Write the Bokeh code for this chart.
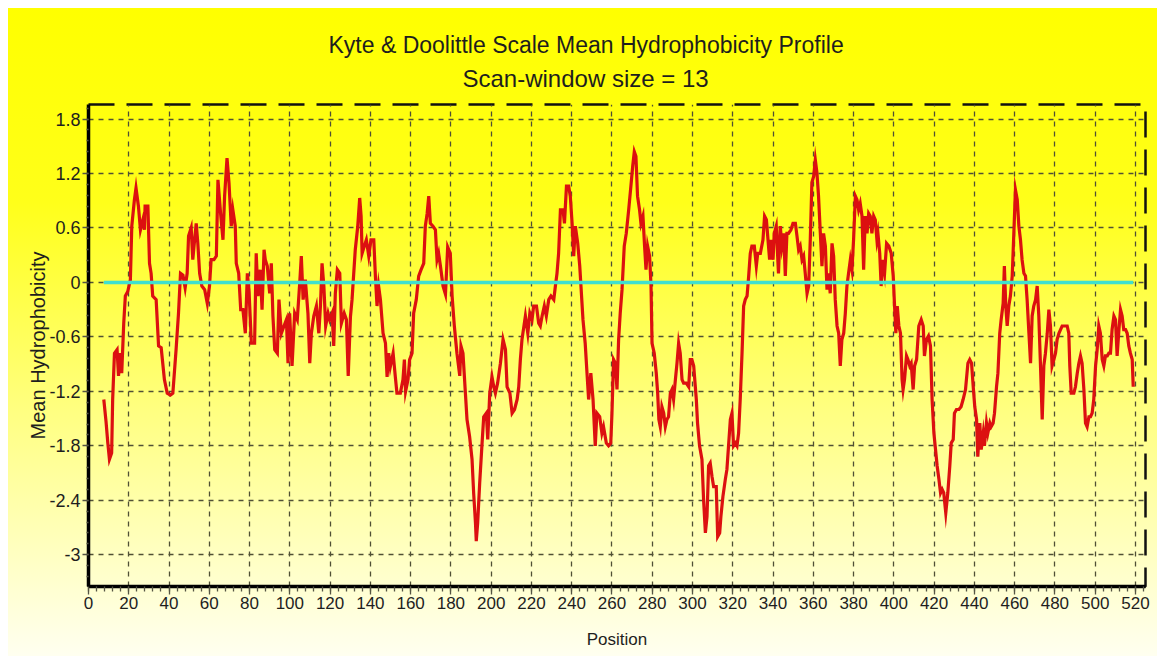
import numpy as np
from bokeh.plotting import figure
from bokeh.models import Range1d, FixedTicker, Title, CustomJSTickFormatter
from bokeh.embed import file_html
from bokeh.resources import INLINE

# ---- data ----
position = [
    7.6, 8.7, 9.6, 10.4, 11.5, 12.0, 12.9, 14.2, 14.9, 15.9, 16.5, 17.5, 18.3, 19.5, 20.8, 21.5, 22.8, 23.6, 24.8, 25.8,
    27.0, 27.8, 28.1, 29.5, 30.3, 31.1, 31.9, 33.6, 34.8, 36.1, 37.7, 39.1, 40.7, 41.9, 43.5, 44.7, 45.7, 46.9, 48.0, 49.0,
    49.7, 51.0, 51.8, 52.7, 53.5, 54.3, 55.2, 56.3, 57.7, 59.0, 60.1, 60.9, 62.3, 63.5, 64.3, 65.6, 66.8, 67.6, 68.8, 69.8,
    70.9, 71.7, 72.9, 73.4, 74.6, 75.6, 76.7, 77.9, 78.9, 79.7, 80.9, 82.5, 83.3, 84.2, 85.3, 86.2, 87.2, 87.8, 88.8, 90.0,
    90.8, 91.6, 92.5, 93.8, 94.6, 95.8, 97.1, 98.3, 99.1, 99.9, 101.1, 102.4, 103.7, 104.9, 105.7, 106.6, 107.7, 109.0, 109.9, 110.7,
    111.9, 113.2, 114.4, 115.2, 116.0, 116.9, 117.8, 119.0, 119.8, 121.0, 121.8, 122.6, 123.6, 124.8, 125.6, 127.0, 128.1, 129.0, 130.1, 130.9,
    132.5, 133.7, 134.7, 135.4, 135.9, 137.0, 138.0, 139.2, 140.3, 141.7, 142.5, 143.3, 144.1, 145.0, 146.3, 147.5, 148.3, 149.1, 149.9, 151.3,
    152.4, 153.2, 154.9, 156.2, 156.9, 157.5, 158.7, 159.5, 160.7, 161.5, 162.8, 164.0, 165.2, 166.5, 167.3, 168.2, 169.0, 169.8, 171.1, 172.3,
    173.1, 173.9, 174.8, 176.1, 177.3, 178.4, 179.7, 180.6, 181.7, 183.0, 184.4, 185.0, 186.0, 187.2, 188.0, 189.3, 190.5, 191.3, 192.2, 192.6,
    193.3, 194.3, 195.4, 196.3, 197.6, 198.3, 199.3, 200.4, 201.3, 202.1, 203.2, 204.6, 205.9, 207.1, 207.9, 209.3, 210.4, 211.6, 212.9, 213.7,
    214.5, 215.3, 217.0, 218.2, 219.2, 220.3, 221.1, 222.5, 223.6, 224.4, 225.3, 226.4, 227.4, 228.6, 229.7, 231.1, 231.9, 232.7, 233.5, 234.4,
    235.7, 236.4, 237.4, 238.5, 239.3, 240.2, 241.0, 241.8, 243.0, 244.0, 244.6, 245.6, 246.7, 247.6, 248.4, 249.5, 250.6, 251.7, 252.5, 253.9,
    255.0, 255.8, 257.2, 258.3, 259.4,
    260.0, 260.8, 261.7, 262.5, 263.3, 264.1, 265.0, 266.1, 267.1, 268.3, 269.4, 270.3, 271.1, 271.9, 272.7, 273.7, 274.4, 275.4, 276.2, 276.9,
    277.7, 278.7, 279.4, 279.9, 281.0, 282.0, 282.7, 283.3, 284.0, 284.8, 285.7, 286.5, 287.3, 288.1, 289.0, 289.8, 290.6, 291.5, 292.3, 293.1,
    293.9, 294.8, 295.6, 296.9, 298.1, 298.9, 299.7, 300.6, 301.9, 302.5, 303.5, 304.7, 305.5, 306.4, 307.2, 308.0, 308.8, 309.7, 310.5, 311.8,
    312.5, 313.5, 314.1, 315.1, 316.3, 317.1, 317.9, 318.8, 319.6, 320.4, 321.3, 322.1, 322.9, 323.7, 324.6, 325.4, 326.2, 327.1, 327.9, 328.7,
    329.5, 330.7, 331.7, 332.4, 333.7, 335.0, 335.8, 336.7, 337.5, 338.3, 339.0, 340.0, 340.6, 341.6, 342.7, 343.6, 344.4, 345.3, 346.1, 346.9,
    347.7, 348.9, 349.9, 351.1, 351.9, 352.7, 353.5, 354.4, 355.2, 356.0, 356.9, 357.7, 358.5, 359.3, 360.2, 361.0, 361.8, 362.6, 363.5, 364.3,
    365.1, 366.0, 366.8, 367.6, 368.4, 369.3, 370.1, 370.9, 371.8, 372.6, 373.4, 374.2, 375.1, 375.9, 376.7, 377.5, 378.4, 379.2, 380.0, 380.9,
    381.7, 382.5, 383.3, 384.2, 385.0, 385.8, 386.7, 387.5, 388.3, 389.1, 390.0, 390.8, 391.6,
    392.1, 393.0, 393.7, 394.4, 395.4, 396.4, 397.5, 398.7, 399.7, 400.3, 401.0, 401.7, 402.5, 403.3, 404.1, 404.6, 405.3, 406.3, 407.0, 407.9,
    408.6, 409.6, 410.3, 411.3, 412.4, 413.6, 414.6, 415.2, 416.2, 417.2, 418.2, 419.0, 419.9, 420.7, 421.5, 422.4, 423.2, 424.0, 424.8, 425.8,
    426.8, 427.8, 428.5, 429.5, 430.1, 431.1, 432.3, 433.4, 434.4, 435.6, 436.8, 437.7, 438.6, 439.4, 440.2, 441.1, 441.7, 442.7, 443.4, 444.4,
    445.0, 446.0, 446.7, 447.7, 448.3, 449.3, 450.0, 451.0, 451.7, 452.6, 453.3, 454.3, 454.9, 455.6, 456.3, 457.1, 457.9, 458.8, 459.6, 460.4,
    461.3, 462.1, 462.9, 463.7, 464.6, 465.4, 466.2, 467.1, 467.9, 468.7, 469.5, 470.4, 471.2, 472.0, 472.8, 473.7, 474.5, 475.3, 476.2, 477.0,
    477.8, 478.6, 479.5, 480.3, 481.1, 482.0, 482.8, 483.6, 484.8, 486.1, 486.9, 487.4, 488.1, 489.4, 490.2, 491.1, 491.9, 492.7, 493.5, 494.4,
    495.2, 496.0, 496.9, 497.7, 498.5, 499.3, 500.2, 501.0, 501.8, 502.6, 503.5, 504.3, 505.1, 506.0, 506.8, 507.6, 508.4, 509.3, 510.1, 510.9,
    511.8, 512.6, 513.4, 514.2, 515.1, 515.9, 516.7, 517.5, 518.4, 518.9,
]
hydrophobicity = [
    -1.29, -1.53, -1.77, -1.95, -1.88, -1.29, -0.78, -0.74, -1.03, -0.78, -1.00, -0.45, -0.15, -0.10, 0.03, 0.62, 0.91, 1.04, 0.84, 0.58,
    0.69, 0.58, 0.84, 0.84, 0.21, 0.10, -0.15, -0.19, -0.70, -0.72, -1.07, -1.22, -1.24, -1.22, -0.74, -0.34, 0.10, 0.08, -0.06, 0.10,
    0.51, 0.60, 0.25, 0.47, 0.65, 0.43, 0.10, -0.04, -0.08, -0.23, -0.04, 0.25, 0.25, 0.29, 1.13, 0.76, 0.47, 0.95, 1.37, 1.09,
    0.62, 0.80, 0.62, 0.21, 0.10, -0.30, -0.30, -0.56, 0.10, -0.08, -0.67, -0.67, 0.32, -0.15, 0.14, -0.30, 0.36, 0.25, 0.18, -0.12,
    0.21, -0.37, -0.74, -0.78, -0.19, -0.56, -0.48, -0.41, -0.89, -0.34, -0.92, -0.34, -0.41, -0.01, 0.29, -0.19, 0.03, -0.34, -0.89, -0.56,
    -0.37, -0.26, -0.56, -0.26, 0.21, -0.04, -0.48, -0.34, -0.41, -0.34, -0.70, -0.12, 0.14, 0.10, -0.45, -0.34, -0.41, -1.03, -0.38, -0.19,
    0.36, 0.61, 0.93, 0.73, 0.32, 0.40, 0.47, 0.29, 0.47, 0.47, 0.07, -0.26, -0.04, -0.19, -0.56, -0.67, -1.04, -0.78, -0.93, -0.78,
    -1.04, -1.22, -1.22, -1.07, -0.85, -1.20, -1.07, -0.85, -0.78, -0.34, -0.19, 0.07, 0.14, 0.21, 0.62, 0.76, 0.95, 0.65, 0.62, 0.58,
    0.25, 0.32, 0.18, -0.04, -0.13, 0.39, 0.32, -0.15, -0.48, -0.78, -1.03, -0.70, -0.78, -1.22, -1.51, -1.70, -1.95, -2.32, -2.65, -2.85,
    -2.65, -2.21, -1.80, -1.48, -1.44, -1.73, -1.22, -1.04, -1.15, -1.22, -1.11, -0.89, -0.63, -0.74, -1.15, -1.22, -1.44, -1.40, -1.29, -1.15,
    -0.85, -0.63, -0.37, -0.56, -0.34, -0.41, -0.26, -0.26, -0.45, -0.48, -0.37, -0.26, -0.37, -0.19, -0.15, -0.19, -0.04, 0.10, 0.32, 0.80,
    0.80, 0.65, 1.06, 1.06, 0.95, 0.65, 0.29, 0.62, 0.43, 0.18, -0.04, -0.41, -0.67, -1.00, -1.29, -1.00, -1.29, -1.80, -1.44, -1.48,
    -1.66, -1.59, -1.77, -1.80, -1.77,
    -1.44, -0.85, -0.89, -1.18, -0.63, -0.34, -0.08, 0.40, 0.54, 0.80, 1.06, 1.28, 1.44, 1.39, 0.95, 0.80, 0.65, 0.73, 0.40, 0.14,
    0.40, 0.29, -0.04, -0.67, -0.78, -1.00, -1.22, -1.51, -1.59, -1.37, -1.44, -1.59, -1.51, -1.48, -1.22, -1.18, -1.29, -1.07, -0.89, -0.67,
    -0.78, -1.07, -1.11, -1.11, -1.15, -0.85, -0.85, -0.92, -1.29, -1.55, -1.80, -1.95, -2.39, -2.76, -2.58, -2.02, -1.99, -2.14, -2.25, -2.25,
    -2.80, -2.76, -2.58, -2.36, -2.17, -2.06, -1.80, -1.51, -1.44, -1.80, -1.77, -1.80, -1.66, -1.29, -0.78, -0.26, -0.19, -0.15, 0.07, 0.32,
    0.40, 0.40, 0.18, 0.32, 0.32, 0.47, 0.73, 0.69, 0.47, 0.25, 0.47, 0.25, 0.54, 0.62, 0.10, 0.62, 0.40, 0.54, 0.07, 0.54,
    0.54, 0.58, 0.65, 0.65, 0.51, 0.36, 0.40, 0.25, 0.29, 0.10, -0.12, -0.04, 0.47, 1.10, 1.17, 1.35, 1.21, 0.95, 0.54, 0.18,
    0.54, 0.40, -0.08, 0.10, -0.12, 0.43, 0.29, -0.19, -0.48, -0.56, -0.92, -0.63, -0.56, -0.34, -0.04, 0.10, 0.25, 0.14, 0.47, 0.95,
    0.91, 0.80, 0.87, 0.73, 0.14, 0.73, 0.54, 0.76, 0.73, 0.54, 0.73, 0.69, 0.47,
    0.54, 0.32, -0.04, 0.25, 0.10, 0.43, 0.40, 0.32, 0.07, -0.23, -0.56, -0.26, -0.48, -0.56, -1.07, -1.18, -1.07, -0.81, -0.85, -0.92,
    -0.89, -1.18, -0.92, -0.85, -0.48, -0.41, -0.48, -0.81, -0.63, -0.59, -0.70, -1.29, -1.66, -1.84, -2.02, -2.17, -2.32, -2.28, -2.32, -2.54,
    -2.32, -2.02, -1.77, -1.73, -1.44, -1.40, -1.40, -1.37, -1.29, -1.18, -0.89, -0.85, -0.89, -1.14, -1.37, -1.51, -1.92, -1.55, -1.84, -1.66,
    -1.80, -1.55, -1.66, -1.55, -1.59, -1.55, -1.44, -1.15, -1.00, -0.56, -0.41, -0.23, 0.18, -0.26, -0.48, -0.26, -0.15, 0.07, 0.54, 1.02,
    0.91, 0.62, 0.47, 0.25, 0.10, 0.07, -0.19, -0.56, -0.89, -0.37, -0.26, -0.19, -0.04, -0.37, -0.89, -1.51, -0.92, -0.78, -0.56, -0.30,
    -0.48, -0.92, -0.85, -0.78, -0.63, -0.56, -0.52, -0.48, -0.48, -0.48, -0.56, -0.92, -1.22, -1.22, -1.15, -1.00, -0.89, -0.81, -0.89, -1.18,
    -1.55, -1.59, -1.48, -1.48, -1.44, -1.29, -0.92, -0.74, -0.48, -0.56, -0.85, -0.92, -0.81, -0.81, -0.78, -0.78, -0.52, -0.37, -0.41, -0.81,
    -0.52, -0.30, -0.37, -0.52, -0.52, -0.56, -0.70, -0.78, -0.85, -1.15,
]
x_ticks = list(range(0, 521, 20))
y_ticks = [-3.0, -2.4, -1.8, -1.2, -0.6, 0.0, 0.6, 1.2, 1.8]
title_line1 = "Kyte & Doolittle Scale Mean Hydrophobicity Profile"
title_line2 = "Scan-window size = 13"
x_label = "Position"
y_label = "Mean Hydrophobicity"
baseline = 0.0

FONT = "Liberation Sans"
TXT = "#1e1e1e"

p = figure(
    frame_width=1057, frame_height=482,
    x_range=Range1d(0, 525), y_range=Range1d(-3.35, 1.96),
    output_backend="svg", toolbar_location=None,
    min_border_left=80, min_border_right=12, min_border_top=96, min_border_bottom=70,
    border_fill_color=None, background_fill_color=None,
    styles={"margin-left": "8px", "margin-top": "8px",
            "background": "linear-gradient(180deg, #ffff00 0%, #ffff1a 30%, #ffff80 62%, #fffff0 100%)"},
)

# Titles (first added sits closest to the frame); left-aligned with offsets so
# that both lines are centred on the whole picture rather than on the frame
p.add_layout(Title(text=title_line2, align="left", text_font=FONT, text_font_size="24px",
                   text_font_style="normal", text_color=TXT, standoff=26, offset=374), "above")
p.add_layout(Title(text=title_line1, align="left", text_font=FONT, text_font_size="23px",
                   text_font_style="normal", text_color=TXT, standoff=-17, offset=240), "above")

# outline: long dashes (top & right visible; left/bottom covered by axes)
p.outline_line_color = "#111111"
p.outline_line_width = 2.5
p.outline_line_dash = "26 12"

# grid
for g in (p.xgrid, p.ygrid):
    g.grid_line_color = "#505035"
    g.grid_line_dash = "5 5"
    g.grid_line_width = 1.3
p.xgrid.ticker = FixedTicker(ticks=x_ticks)
p.ygrid.ticker = FixedTicker(ticks=y_ticks)

# axes
xax = p.xaxis[0]
xax.ticker = FixedTicker(ticks=x_ticks, minor_ticks=list(np.arange(0, 525, 4)))
yax = p.yaxis[0]
yax.ticker = FixedTicker(ticks=y_ticks, minor_ticks=list(np.round(np.arange(-3.36, 1.95, 0.12), 2)))
yax.formatter = CustomJSTickFormatter(code="return (Math.abs(tick) < 1e-9) ? '0' : tick.toFixed(1).replace(/\\.0$/, '');")

for ax in (xax, yax):
    ax.axis_line_color = "black"
    ax.axis_line_width = 3.5
    ax.major_tick_line_color = "#555544"
    ax.major_tick_line_width = 1.3
    ax.minor_tick_line_color = "#555544"
    ax.minor_tick_line_width = 1.3
    ax.major_tick_in = 0
    ax.minor_tick_in = 0
    ax.major_label_text_font = FONT
    ax.major_label_text_color = TXT
    ax.axis_label_text_font = FONT
    ax.axis_label_text_font_style = "normal"
    ax.axis_label_text_color = TXT

xax.major_tick_out = 8
xax.minor_tick_out = 5
xax.major_label_standoff = 2
xax.major_label_text_font_size = "17px"
xax.axis_label = x_label
xax.axis_label_text_font_size = "17px"
xax.axis_label_standoff = 18

yax.major_tick_out = 6
yax.minor_tick_out = 2
yax.major_label_standoff = 2
yax.major_label_text_font_size = "18px"
yax.axis_label = y_label
yax.axis_label_text_font_size = "20px"
yax.axis_label_standoff = -3

# data line
p.line(position, hydrophobicity, line_color="#dc1010", line_width=3.2, line_join="miter")
# zero reference line spanning the scanned positions
p.line([position[0], position[-1]], [baseline, baseline], line_color="#3fe0cf", line_width=3.5)

open("out.html", "w").write(file_html(p, INLINE))
